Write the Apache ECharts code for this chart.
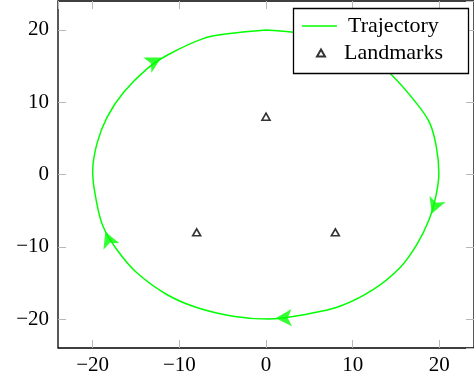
<!DOCTYPE html>
<html>
<head>
<meta charset="utf-8">
<script src="https://cdn.jsdelivr.net/npm/echarts@6/dist/echarts.min.js"></script>
<style>html,body{margin:0;padding:0;background:#fff}#c{width:474px;height:376px}</style>
</head>
<body>
<div id="c"></div>
<script>
// Trajectory (clockwise, starting at the top)
const trajectoryX = [0.0, 2.9, 6.0, 9.5, 12.0, 14.3, 17.4, 18.9, 19.65, 19.95, 19.6, 18.8, 17.4, 15.45, 12.4, 8.6, 4.8, 0.2, -3.8, -8.0, -11.45, -14.9, -17.2, -18.8, -19.6, -20.0, -19.5, -18.3, -16.4, -13.7, -11.25, -7.25, -4.2, 0.0];
const trajectoryY = [20.0, 19.7, 19.1, 17.6, 15.9, 14.0, 9.8, 7.1, 3.85, 0.2, -3.0, -6.3, -9.7, -12.9, -15.9, -18.2, -19.3, -20.0, -19.6, -18.4, -16.6, -13.6, -10.4, -7.2, -3.5, 0.3, 4.3, 8.0, 11.4, 14.65, 16.6, 18.8, 19.5, 20.0];
// Landmarks
const landmarkX = [0, -8, 8];
const landmarkY = [8, -8, -8];
// Arrow tips on the trajectory
const arrowTipX = [-11.25, 18.78, 0.2, -18.9];
const arrowTipY = [16.7, -6.47, -19.9, -6.9];
// Tick labels
const xTicks = [-20, -10, 0, 10, 20];
const yTicks = [-20, -10, 0, 10, 20];

const FONT = 'Liberation Serif';
const GREEN = '#00ff00';
const ARROW_W = 13, ARROW_H = 16;

const trajectory = trajectoryX.map((x, i) => [x, trajectoryY[i]]);
const landmarks = landmarkX.map((x, i) => [x, landmarkY[i]]);

function axis(pos, showLabel, ticks) {
  return {
    type: 'value', position: pos, min: -24, max: 24, splitNumber: 5,
    axisLine: { show: false, onZero: false },
    splitLine: { show: false },
    axisTick: { show: true, inside: true, length: 8, lineStyle: { color: '#b8b8b8', width: 1 } },
    axisLabel: {
      show: showLabel, margin: pos === 'bottom' ? 7 : 9,
      fontFamily: FONT, fontSize: 21, color: '#000',
      showMinLabel: false, showMaxLabel: false,
      formatter: v => ticks.includes(v) ? String(v).replace('-', '\u2212') : ''
    }
  };
}

const chart = echarts.init(document.getElementById('c'), null, { renderer: 'canvas' });
const option = {
  animation: false,
  backgroundColor: '#fff',
  grid: { left: 58, top: 1, width: 420, height: 347.3, show: true, borderColor: '#000', borderWidth: 1.3 },
  xAxis: [axis('bottom', true, xTicks), axis('top', false, xTicks)],
  yAxis: [axis('left', true, yTicks), axis('right', false, yTicks)],
  legend: [
    { data: [{ name: 'Trajectory', icon: 'rect', itemStyle: { color: GREEN } }], left: 302, top: 15, padding: 0,
      itemWidth: 35, itemHeight: 1.6, selectedMode: false, z: 6,
      textStyle: { fontFamily: FONT, fontSize: 22, color: '#000', padding: [0, 0, 0, 6] } },
    { data: ['Landmarks'], left: 316, top: 42, padding: 0, itemWidth: 8, itemHeight: 7, selectedMode: false, z: 6,
      textStyle: { fontFamily: FONT, fontSize: 22, color: '#000', padding: [0, 0, 0, 14] } }
  ],
  graphic: [{
    type: 'rect', z: 5, shape: { x: 293.5, y: 8.5, width: 175, height: 65 },
    style: { fill: '#fff', stroke: '#000', lineWidth: 1.3 }
  }],
  series: [
    { id: 'traj', name: 'Trajectory', type: 'line', data: trajectory, symbol: 'none', smooth: 0.35,
      lineStyle: { color: GREEN, width: 1.5 }, itemStyle: { color: GREEN }, z: 2 },
    { id: 'lm', name: 'Landmarks', type: 'scatter', data: landmarks, symbol: 'triangle', symbolSize: [8, 7],
      itemStyle: { color: '#fff', borderColor: '#000', borderWidth: 1.6 }, z: 3 },
    { id: 'arrows', type: 'scatter', data: [], symbol: 'arrow', symbolSize: [ARROW_W, ARROW_H],
      itemStyle: { color: GREEN }, z: 3 }
  ]
};
chart.setOption(option);

// Arrow heads: oriented along the trajectory, tip at the read position
const pix = trajectory.map(p => chart.convertToPixel({ seriesIndex: 0 }, p));
const arrowData = arrowTipX.map((tx, k) => {
  const tip = chart.convertToPixel({ seriesIndex: 0 }, [tx, arrowTipY[k]]);
  let best = 0, bd = Infinity;
  pix.forEach((p, i) => { const d = (p[0] - tip[0]) ** 2 + (p[1] - tip[1]) ** 2; if (d < bd) { bd = d; best = i; } });
  const a = pix[Math.max(best - 1, 0)], b = pix[Math.min(best + 1, pix.length - 1)];
  let dx = b[0] - a[0], dy = b[1] - a[1];
  const L = Math.hypot(dx, dy); dx /= L; dy /= L;
  const c = [tip[0] - dx * ARROW_H / 2, tip[1] - dy * ARROW_H / 2];
  return { value: chart.convertFromPixel({ seriesIndex: 0 }, c), symbolRotate: Math.atan2(-dx, -dy) * 180 / Math.PI };
});
chart.setOption({ series: [{ id: 'arrows', data: arrowData }] });
</script>
</body>
</html>
